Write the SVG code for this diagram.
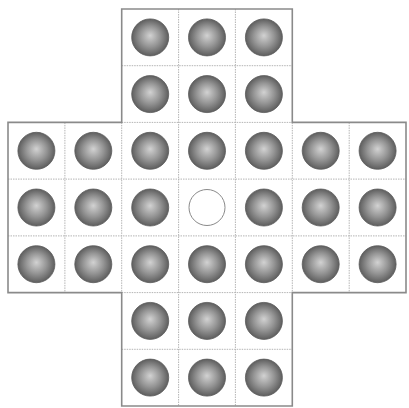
<svg xmlns="http://www.w3.org/2000/svg" width="409" height="408" viewBox="0 0 409 408">
<style>
.grid{fill:none;stroke:#b4b4b4;stroke-width:1;stroke-dasharray:1.5 1}
.outline{fill:none;stroke:#8a8a8a;stroke-width:1.6}
.peg{fill:url(#pg);stroke:#5a5a5a;stroke-width:0.8}
.hole{fill:#fff;stroke:#8a8a8a;stroke-width:1}
</style>
<defs>
<radialGradient id="pg" cx="0.5" cy="0.5" r="0.5" fx="0.5" fy="0.45">
<stop offset="0" stop-color="#d2d2d2"/>
<stop offset="0.55" stop-color="#959595"/>
<stop offset="1" stop-color="#5e5e5e"/>
</radialGradient>
</defs>
<rect width="409" height="408" fill="#fff"/>
<g id="board">
<path class="grid" d="M178.6,9 V406 M235.4,9 V406 M64.9,122.4 V292.6 M121.7,122.4 V292.6 M292.3,122.4 V292.6 M349.2,122.4 V292.6 M121.7,65.7 H292.3 M121.7,122.4 H292.3 M8,179.1 H406 M8,235.9 H406 M121.7,292.6 H292.3 M121.7,349.3 H292.3"/>
<path class="outline" d="M121.7,9 H292.3 V122.4 H406 V292.6 H292.3 V406 H121.7 V292.6 H8 V122.4 H121.7 Z"/>
</g>
<g id="connectors"></g>
<g id="p-0-2"><circle class="peg" cx="150.2" cy="37.4" r="18.5"/></g>
<g id="p-0-3"><circle class="peg" cx="207" cy="37.4" r="18.5"/></g>
<g id="p-0-4"><circle class="peg" cx="263.9" cy="37.4" r="18.5"/></g>
<g id="p-1-2"><circle class="peg" cx="150.2" cy="94.1" r="18.5"/></g>
<g id="p-1-3"><circle class="peg" cx="207" cy="94.1" r="18.5"/></g>
<g id="p-1-4"><circle class="peg" cx="263.9" cy="94.1" r="18.5"/></g>
<g id="p-2-0"><circle class="peg" cx="36.4" cy="150.8" r="18.5"/></g>
<g id="p-2-1"><circle class="peg" cx="93.3" cy="150.8" r="18.5"/></g>
<g id="p-2-2"><circle class="peg" cx="150.2" cy="150.8" r="18.5"/></g>
<g id="p-2-3"><circle class="peg" cx="207" cy="150.8" r="18.5"/></g>
<g id="p-2-4"><circle class="peg" cx="263.9" cy="150.8" r="18.5"/></g>
<g id="p-2-5"><circle class="peg" cx="320.7" cy="150.8" r="18.5"/></g>
<g id="p-2-6"><circle class="peg" cx="377.6" cy="150.8" r="18.5"/></g>
<g id="p-3-0"><circle class="peg" cx="36.4" cy="207.5" r="18.5"/></g>
<g id="p-3-1"><circle class="peg" cx="93.3" cy="207.5" r="18.5"/></g>
<g id="p-3-2"><circle class="peg" cx="150.2" cy="207.5" r="18.5"/></g>
<g id="hole-3-3"><circle class="hole" cx="207" cy="207.5" r="18"/></g>
<g id="p-3-4"><circle class="peg" cx="263.9" cy="207.5" r="18.5"/></g>
<g id="p-3-5"><circle class="peg" cx="320.7" cy="207.5" r="18.5"/></g>
<g id="p-3-6"><circle class="peg" cx="377.6" cy="207.5" r="18.5"/></g>
<g id="p-4-0"><circle class="peg" cx="36.4" cy="264.2" r="18.5"/></g>
<g id="p-4-1"><circle class="peg" cx="93.3" cy="264.2" r="18.5"/></g>
<g id="p-4-2"><circle class="peg" cx="150.2" cy="264.2" r="18.5"/></g>
<g id="p-4-3"><circle class="peg" cx="207" cy="264.2" r="18.5"/></g>
<g id="p-4-4"><circle class="peg" cx="263.9" cy="264.2" r="18.5"/></g>
<g id="p-4-5"><circle class="peg" cx="320.7" cy="264.2" r="18.5"/></g>
<g id="p-4-6"><circle class="peg" cx="377.6" cy="264.2" r="18.5"/></g>
<g id="p-5-2"><circle class="peg" cx="150.2" cy="320.9" r="18.5"/></g>
<g id="p-5-3"><circle class="peg" cx="207" cy="320.9" r="18.5"/></g>
<g id="p-5-4"><circle class="peg" cx="263.9" cy="320.9" r="18.5"/></g>
<g id="p-6-2"><circle class="peg" cx="150.2" cy="377.6" r="18.5"/></g>
<g id="p-6-3"><circle class="peg" cx="207" cy="377.6" r="18.5"/></g>
<g id="p-6-4"><circle class="peg" cx="263.9" cy="377.6" r="18.5"/></g>
</svg>
